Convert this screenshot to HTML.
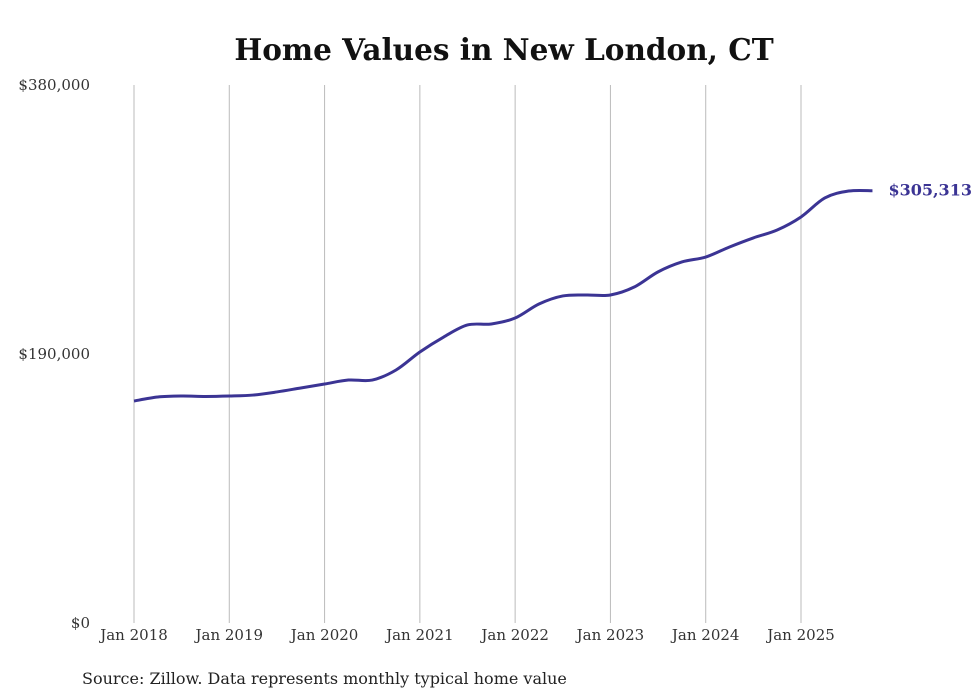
<!DOCTYPE html>
<html><head><meta charset="utf-8"><style>
body{margin:0;background:#fff;}
svg{display:block;font-family:"DejaVu Serif","Liberation Serif",serif;}
</style></head><body>
<svg id="chart" width="980" height="699">
<text x="504" y="60" text-anchor="middle" font-size="29.5" font-weight="bold" fill="#111">Home Values in New London, CT</text>
<g id="grid"></g>
<g id="yaxis"></g>
<g id="xaxis"></g>
<path id="line" fill="none" stroke="#3b3494" stroke-width="3"></path>
<text id="endlabel" font-size="16" font-weight="bold" fill="#3b3494"></text>
<text x="82" y="684" font-size="16" fill="#222">Source: Zillow. Data represents monthly typical home value</text>
</svg>
<script>
const months = [0,3,6,9,12,15,18,21,24,27,30,33,36,39,42,45,48,51,54,57,60,63,66,69,72,75,78,81,84,87,90,93];
const values = [156800,159600,160300,160000,160300,161000,163200,166000,168800,171600,171600,178700,191400,202000,210500,211200,215400,225300,231000,231700,231700,237300,248000,255000,258500,265600,272000,277600,286800,300200,305100,305313];
const yTicks = [0,190000,380000];
const yTickLabels = ["$0","$190,000","$380,000"];
const xYears = [2018,2019,2020,2021,2022,2023,2024,2025];
const NS="http://www.w3.org/2000/svg";
const x = m => 134 + m*(801-134)/84;
const y = v => 623 - v*538/380000;
const grid=document.getElementById('grid'), xa=document.getElementById('xaxis'), ya=document.getElementById('yaxis');
xYears.forEach((yr,i)=>{
  const l=document.createElementNS(NS,'line');
  l.setAttribute('x1',x(i*12));l.setAttribute('x2',x(i*12));l.setAttribute('y1',85);l.setAttribute('y2',623);
  l.setAttribute('stroke','#bbb');l.setAttribute('stroke-width','1');
  
  
  grid.appendChild(l);
  const t=document.createElementNS(NS,'text');
  t.setAttribute('x',x(i*12));t.setAttribute('y',640);t.setAttribute('text-anchor','middle');
  t.setAttribute('font-size','15');t.setAttribute('fill','#333');
  t.textContent='Jan '+yr;
  
  
  xa.appendChild(t);
});
yTicks.forEach((v,i)=>{
  const t=document.createElementNS(NS,'text');
  t.setAttribute('x',90);t.setAttribute('y',y(v)+5);t.setAttribute('text-anchor','end');
  t.setAttribute('font-size','15');t.setAttribute('fill','#333');
  t.textContent=yTickLabels[i];
  
  
  ya.appendChild(t);
});
const pts=months.map((m,i)=>[x(m),y(values[i])]);
let d='M'+pts[0][0]+','+pts[0][1];
for(let i=0;i<pts.length-1;i++){
  const p0=pts[i-1]||pts[i],p1=pts[i],p2=pts[i+1],p3=pts[i+2]||p2;
  d+=' C'+(p1[0]+(p2[0]-p0[0])/6)+','+(p1[1]+(p2[1]-p0[1])/6)+' '+(p2[0]-(p3[0]-p1[0])/6)+','+(p2[1]-(p3[1]-p1[1])/6)+' '+p2[0]+','+p2[1];
}
document.getElementById('line').setAttribute('d',d);
const last=pts[pts.length-1];
const el=document.getElementById('endlabel');
el.setAttribute('x',last[0]+16);el.setAttribute('y',last[1]+5);
el.textContent='$'+values[values.length-1].toLocaleString('en-US');
</script>
</body></html>
